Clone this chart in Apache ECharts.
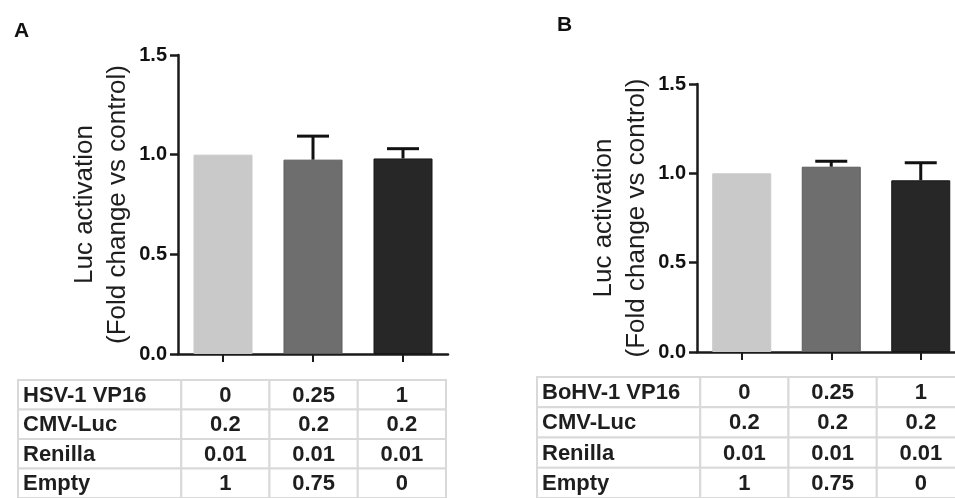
<!DOCTYPE html>
<html>
  <head>
    <meta charset="utf-8" />
    <title>Luc activation</title>
    <script src="https://cdn.jsdelivr.net/npm/echarts@6.0.0/dist/echarts.min.js"></script>
    <style>
      html, body { margin: 0; padding: 0; background: #fff; overflow: hidden; }
    </style>
  </head>
  <body>
    <!-- 原图右侧被裁切，画布略宽于窗口 -->
    <div id="main" style="width: 975px; height: 498px"></div>

    <script type="text/javascript">
      // 数据
      const groups = ['g1', 'g2', 'g3']
      const meansA = [1.0, 0.975, 0.981]
      const errA = [0, 0.118, 0.049]
      const meansB = [1.0, 1.037, 0.961]
      const errB = [0, 0.03, 0.098]
      const barColors = ['#c9c9c9', '#6e6e6e', '#272727']
      const barBorders = ['#c9c9c9', '#5c5c5c', '#161616']

      const rowLabelsA = ['HSV-1 VP16', 'CMV-Luc', 'Renilla', 'Empty']
      const rowLabelsB = ['BoHV-1 VP16', 'CMV-Luc', 'Renilla', 'Empty']
      const vp16Row = ['0', '0.25', '1']
      const cmvLucRow = ['0.2', '0.2', '0.2']
      const renillaRow = ['0.01', '0.01', '0.01']
      const emptyRow = ['1', '0.75', '0']
      const tableRows = [vp16Row, cmvLucRow, renillaRow, emptyRow]

      const FONT = "'Liberation Sans', Arial, Helvetica, sans-serif"
      const LABEL_UNITS = 1.85 // 表格第一列宽度（以数据列宽为单位）

      function buildCells(labels) {
        const cells = []
        labels.forEach((label, r) => {
          cells.push({ col: -1, row: r, text: label })
          tableRows[r].forEach((t, c) => cells.push({ col: c, row: r, text: t }))
        })
        return cells
      }
      const cellsA = buildCells(rowLabelsA)
      const cellsB = buildCells(rowLabelsB)

      function tableRenderer(cells) {
        return function (params, api) {
          const cell = cells[params.dataIndex]
          const x0 = cell.col < 0 ? -LABEL_UNITS : cell.col
          const x1 = cell.col < 0 ? 0 : cell.col + 1
          const p0 = api.coord([x0, cell.row])
          const p1 = api.coord([x1, cell.row + 1])
          const isLabel = cell.col < 0
          return {
            type: 'group',
            children: [
              {
                type: 'rect',
                shape: { x: p0[0], y: p0[1], width: p1[0] - p0[0], height: p1[1] - p0[1] },
                style: { fill: '#fff', stroke: '#d9d9d9', lineWidth: 2 },
              },
              {
                type: 'text',
                style: {
                  text: cell.text,
                  x: isLabel ? p0[0] + 5 : (p0[0] + p1[0]) / 2,
                  y: (p0[1] + p1[1]) / 2 + 1,
                  align: isLabel ? 'left' : 'center',
                  verticalAlign: 'middle',
                  font: 'bold 22px ' + FONT,
                  fill: '#1e1e1e',
                },
              },
            ],
          }
        }
      }

      function errorRenderer(params, api) {
        const i = api.value(0)
        const m = api.value(1)
        const e = api.value(2)
        if (!e) return null
        const base = api.coord([i, m])
        const top = api.coord([i, m + e])
        return {
          type: 'group',
          children: [
            {
              type: 'line',
              shape: { x1: base[0], y1: base[1], x2: top[0], y2: top[1] },
              style: { stroke: '#111', lineWidth: 3 },
            },
            {
              type: 'line',
              shape: { x1: top[0] - 16, y1: top[1], x2: top[0] + 16, y2: top[1] },
              style: { stroke: '#111', lineWidth: 3 },
            },
          ],
        }
      }

      function valueAxis(gridIndex) {
        return {
          type: 'value',
          gridIndex,
          min: 0,
          max: 1.5,
          interval: 0.5,
          name: 'Luc activation\n(Fold change vs control)',
          nameLocation: 'middle',
          nameGap: 44,
          nameTextStyle: { fontFamily: FONT, fontSize: 26, color: '#1e1e1e', lineHeight: 33 },
          axisLine: { show: true, lineStyle: { color: '#1a1a1a', width: 2.5 } },
          axisTick: { show: true, length: 8, lineStyle: { color: '#1a1a1a', width: 2.5 } },
          axisLabel: {
            margin: 11,
            fontFamily: FONT,
            fontWeight: 'bold',
            fontSize: 20,
            color: '#111',
            formatter: (v) => v.toFixed(1),
          },
          splitLine: { show: false },
        }
      }

      function categoryAxis(gridIndex) {
        return {
          type: 'category',
          gridIndex,
          data: groups,
          axisLine: { show: true, lineStyle: { color: '#1a1a1a', width: 2.5 } },
          axisTick: { show: true, alignWithLabel: true, length: 8, lineStyle: { color: '#1a1a1a', width: 2 } },
          axisLabel: { show: false },
        }
      }

      function tableAxes(gridIndex) {
        return {
          x: { type: 'value', gridIndex, min: -LABEL_UNITS, max: 3, show: false },
          y: { type: 'value', gridIndex, min: 0, max: 4, inverse: true, show: false },
        }
      }

      function barSeries(axisIndex, means) {
        return {
          type: 'bar',
          xAxisIndex: axisIndex,
          yAxisIndex: axisIndex,
          barWidth: 59,
          data: means.map((v, i) => ({
            value: v,
            itemStyle: { color: barColors[i], borderColor: barBorders[i], borderWidth: 1 },
          })),
          silent: true,
        }
      }

      const tA = tableAxes(2)
      const tB = tableAxes(3)

      const myChart = echarts.init(document.getElementById('main'))
      const option = {
        animation: false,
        title: [
          { text: 'A', left: 9, top: 16, textStyle: { fontFamily: FONT, fontSize: 21, fontWeight: 'bold', color: '#111' } },
          { text: 'B', left: 552, top: 10, textStyle: { fontFamily: FONT, fontSize: 21, fontWeight: 'bold', color: '#111' } },
        ],
        grid: [
          { left: 178, top: 55, width: 270, height: 299 },
          { left: 697, top: 84, width: 268.5, height: 268 },
          { left: 18, top: 380, width: 428, height: 122 },
          { left: 537, top: 377, width: 428, height: 124 },
        ],
        xAxis: [categoryAxis(0), categoryAxis(1), tA.x, tB.x],
        yAxis: [valueAxis(0), valueAxis(1), tA.y, tB.y],
        series: [
          barSeries(0, meansA),
          barSeries(1, meansB),
          {
            type: 'custom',
            xAxisIndex: 0,
            yAxisIndex: 0,
            renderItem: errorRenderer,
            data: meansA.map((m, i) => [i, m, errA[i]]),
            z: 3,
            silent: true,
          },
          {
            type: 'custom',
            xAxisIndex: 1,
            yAxisIndex: 1,
            renderItem: errorRenderer,
            data: meansB.map((m, i) => [i, m, errB[i]]),
            z: 3,
            silent: true,
          },
          {
            type: 'custom',
            xAxisIndex: 2,
            yAxisIndex: 2,
            renderItem: tableRenderer(cellsA),
            data: cellsA.map((c) => [c.col, c.row]),
            clip: false,
            silent: true,
          },
          {
            type: 'custom',
            xAxisIndex: 3,
            yAxisIndex: 3,
            renderItem: tableRenderer(cellsB),
            data: cellsB.map((c) => [c.col, c.row]),
            clip: false,
            silent: true,
          },
        ],
      }
      myChart.setOption(option)
    </script>
  </body>
</html>
